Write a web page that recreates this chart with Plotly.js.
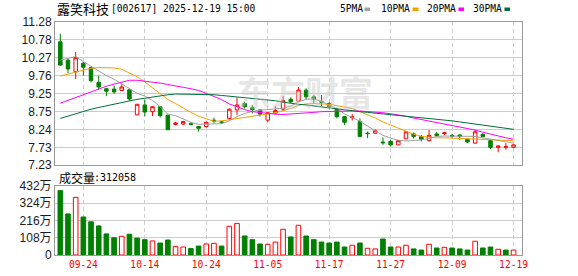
<!DOCTYPE html>
<html><head><meta charset="utf-8">
<script src="https://cdn.plot.ly/plotly-3.0.1.min.js"></script>
<style>html,body{margin:0;padding:0;background:#fff;}#chart{width:578px;height:276px;}</style>
</head><body><div id="chart"></div>
<script>
const dates = ['09-19','09-22','09-23','09-24','09-25','09-26','09-29','09-30','10-09','10-10','10-13','10-14','10-15','10-16','10-17','10-20','10-21','10-22','10-23','10-24','10-27','10-28','10-29','10-30','10-31','11-03','11-04','11-05','11-06','11-07','11-10','11-11','11-12','11-13','11-14','11-17','11-18','11-19','11-20','11-21','11-24','11-25','11-26','11-27','11-28','12-01','12-02','12-03','12-04','12-05','12-08','12-09','12-10','12-11','12-12','12-15','12-16','12-17','12-18','12-19'];
const openP  = [10.72,10.20,9.87,10.11,9.99,9.57,9.39,9.38,9.34,9.36,8.65,8.93,8.74,8.88,8.64,8.38,8.39,8.40,8.32,8.32,8.50,8.45,8.55,8.79,8.97,8.86,8.79,8.50,8.70,8.81,9.09,9.04,9.35,9.16,9.03,8.97,8.81,8.60,8.57,8.46,8.13,8.13,7.88,7.90,7.80,7.97,8.11,8.04,7.92,8.11,8.12,8.07,8.08,7.96,7.85,8.10,7.92,7.73,7.73,7.73];
const highP  = [10.95,10.23,10.43,10.15,10.01,9.76,9.40,9.47,9.52,9.37,8.96,9.08,8.90,8.90,8.66,8.45,8.48,8.44,8.33,8.46,8.57,8.48,8.83,9.14,9.02,8.93,8.80,8.72,8.90,9.18,9.15,9.44,9.40,9.21,9.21,9.01,8.85,8.62,8.67,8.55,8.18,8.24,8.01,7.95,7.93,8.18,8.15,8.08,8.22,8.17,8.17,8.11,8.10,7.97,8.22,8.13,7.96,7.77,7.85,7.81];
const lowP   = [10.05,9.83,9.66,9.76,9.57,9.36,9.18,9.25,9.34,9.05,8.64,8.61,8.62,8.58,8.22,8.35,8.36,8.35,8.18,8.29,8.41,8.40,8.53,8.65,8.83,8.69,8.60,8.45,8.67,8.77,8.98,9.02,9.07,8.97,8.90,8.82,8.55,8.36,8.49,8.02,7.99,8.12,7.80,7.75,7.80,7.97,7.98,7.90,7.90,8.05,8.08,8.00,7.95,7.85,7.83,8.00,7.68,7.59,7.66,7.72];
const closeP = [10.06,9.95,10.27,10.00,9.62,9.44,9.32,9.30,9.44,9.10,8.95,8.73,8.88,8.63,8.23,8.42,8.46,8.38,8.27,8.44,8.48,8.44,8.81,8.93,8.88,8.80,8.67,8.71,8.77,9.05,9.02,9.35,9.16,9.09,9.01,8.88,8.60,8.44,8.59,8.04,8.12,8.20,7.86,7.80,7.92,8.17,8.04,7.96,8.07,8.06,8.14,8.05,8.04,7.88,8.17,8.04,7.73,7.77,7.75,7.80];
const volume = [403,257,361,238,208,182,132,108,117,130,106,96,88,75,94,54,50,40,56,69,73,56,180,198,119,96,69,67,81,161,113,186,119,96,81,75,81,50,61,75,42,38,100,50,50,61,38,31,67,44,48,44,38,31,86,44,50,36,31,31.2];
const ma5  = [10.20,10.26,10.30,10.16,10.02,9.88,9.76,9.66,9.52,9.38,9.26,9.18,9.06,8.88,8.67,8.63,8.53,8.44,8.38,8.38,8.38,8.40,8.48,8.60,8.69,8.75,8.78,8.80,8.82,8.84,8.90,9.02,9.09,9.10,9.03,8.93,8.82,8.68,8.58,8.47,8.33,8.20,8.07,7.99,7.93,7.91,7.92,7.94,7.98,8.04,8.05,8.05,8.05,8.04,8.04,8.00,7.96,7.93,7.89,7.85];
const ma10 = [9.75,9.81,9.87,9.93,9.97,9.99,9.99,9.98,9.94,9.84,9.73,9.58,9.41,9.25,9.09,8.97,8.84,8.72,8.61,8.53,8.47,8.48,8.51,8.54,8.58,8.62,8.65,8.68,8.71,8.77,8.83,8.92,8.96,8.97,8.96,8.95,8.91,8.87,8.83,8.74,8.66,8.56,8.45,8.36,8.27,8.17,8.10,8.04,8.01,8.00,8.00,7.99,7.99,7.98,7.98,7.97,7.96,7.94,7.93,7.92];
const ma20 = [8.98,9.06,9.14,9.22,9.30,9.39,9.46,9.52,9.58,9.63,9.63,9.61,9.58,9.55,9.51,9.48,9.43,9.39,9.34,9.26,9.18,9.08,8.96,8.87,8.80,8.74,8.71,8.68,8.67,8.66,8.67,8.69,8.71,8.72,8.74,8.75,8.76,8.77,8.76,8.76,8.75,8.74,8.71,8.68,8.65,8.61,8.56,8.52,8.47,8.42,8.38,8.34,8.30,8.27,8.22,8.16,8.10,8.04,8.00,7.96];
const ma30 = [8.55,8.62,8.69,8.75,8.81,8.86,8.91,8.96,9.00,9.05,9.09,9.12,9.16,9.19,9.22,9.24,9.24,9.24,9.23,9.23,9.22,9.20,9.18,9.16,9.14,9.12,9.10,9.08,9.05,9.01,8.97,8.95,8.93,8.90,8.87,8.84,8.81,8.78,8.76,8.74,8.72,8.70,8.68,8.66,8.64,8.62,8.60,8.58,8.55,8.52,8.50,8.48,8.45,8.42,8.39,8.36,8.33,8.30,8.27,8.24];
const priceTicks = [7.23,7.73,8.24,8.75,9.25,9.76,10.27,10.78,11.28];
const volTicks = [0,108,216,324,432];
const volTickText = ['0','108万','216万','324万','432万'];
const dateTicks = ['09-24','10-14','10-24','11-05','11-17','11-27','12-09','12-19'];
const stockName = '露笑科技';
const stockInfo = '[002617] 2025-12-19 15:00';
const maNames = ['5PMA','10PMA','20PMA','30PMA'];
const volLabel = '成交量';
const volLast = ':312058';

const RED = '#ff0000', GREEN = '#008000';
const maColors = ['#a0a0a0','#f5a000','#ff00ff','#006f3a'];
const W = 578, H = 276, ML = 55, MR = 56, MT = 22, MB = 21;
const PW = W - ML - MR, PH = H - MT - MB;
const px = x => (x - ML) / PW;
const py = y => (H - MB - y) / PH;

const volUp = closeP.map((c, i) => i > 0 && c >= closeP[i - 1]);

const traces = [
  {type:'candlestick', x:dates, open:openP, high:highP, low:lowP, close:closeP,
   xaxis:'x2', yaxis:'y2', hoverinfo:'skip', whiskerwidth:0,
   increasing:{line:{color:RED,width:1}, fillcolor:'#ffffff'},
   decreasing:{line:{color:GREEN,width:1}, fillcolor:GREEN}},
  ...[ma5, ma10, ma20, ma30].map((m, k) => ({type:'scatter', mode:'lines', x:dates, y:m,
   xaxis:'x2', yaxis:'y2', hoverinfo:'skip', line:{color:maColors[k], width:1}})),
  {type:'bar', x:dates, y:volume, xaxis:'x', yaxis:'y', hoverinfo:'skip',
   marker:{color:volUp.map(u => u ? '#ffffff' : GREEN),
           line:{color:volUp.map(u => u ? RED : GREEN), width:1}}}
];

const axX = {type:'category', range:[-0.69, 60.1], tickvals:dateTicks, ticktext:dateTicks,
  showgrid:true, gridcolor:'#cccccc', griddash:'4px,3px', gridwidth:1,
  showline:true, mirror:true, linecolor:'#999999', linewidth:1, ticks:'',
  rangeslider:{visible:false}, fixedrange:true, zeroline:false};

const layout = {
  width:W, height:H, margin:{l:ML, r:MR, t:MT, b:MB, pad:0},
  paper_bgcolor:'#ffffff', plot_bgcolor:'#ffffff', showlegend:false,
  bargap:0.4, boxgap:0.35,
  font:{family:'Liberation Sans, Arial', size:12, color:'#111'},
  xaxis:Object.assign({}, axX, {anchor:'y', domain:[0,1],
     tickfont:{family:'DejaVu Sans Mono', size:9.6, color:RED}}),
  xaxis2:Object.assign({}, axX, {anchor:'y2', domain:[0,1], showticklabels:false, matches:'x'}),
  yaxis:{domain:[0, py(186)], range:[0,432], tickvals:volTicks, ticktext:volTickText,
     showgrid:true, gridcolor:'#cccccc', showline:true, mirror:true, linecolor:'#999999',
     zeroline:false, ticks:'', fixedrange:true,
     tickfont:{family:'Liberation Sans, Noto Sans CJK SC', size:12, color:'#1a1a1a'}},
  yaxis2:{domain:[py(165), 1], range:[7.23, 11.28], tickvals:priceTicks,
     ticktext:priceTicks.map(v => v.toFixed(2)),
     showgrid:true, gridcolor:'#cccccc', showline:true, mirror:true, linecolor:'#999999',
     zeroline:false, ticks:'', fixedrange:true,
     tickfont:{family:'Liberation Sans', size:12, color:'#1a1a1a'}},
  annotations:[
    {xref:'paper', yref:'paper', x:px(305), y:py(91), xanchor:'center', yanchor:'middle', showarrow:false,
     text:'<b>东方财富</b>', font:{family:'Noto Sans CJK SC', size:34, color:'rgba(200,200,200,0.45)'}},
    {xref:'paper', yref:'paper', x:px(55), y:py(9), xanchor:'left', yanchor:'middle', showarrow:false,
     text:stockName, font:{family:'Noto Sans CJK SC', size:13, color:'#000'}},
    {xref:'paper', yref:'paper', x:px(108.5), y:py(9), xanchor:'left', yanchor:'middle', showarrow:false,
     text:stockInfo, font:{family:'DejaVu Sans Mono', size:9.6, color:'#000'}},
    ...maNames.map((n, k) => ({xref:'paper', yref:'paper', x:px([338,379,425,471][k]), y:py(9),
     xanchor:'left', yanchor:'middle', showarrow:false, text:n,
     font:{family:'DejaVu Sans Mono', size:9.6, color:'#000'}})),
    {xref:'paper', yref:'paper', x:px(57), y:py(177), xanchor:'left', yanchor:'middle', showarrow:false,
     text:volLabel, font:{family:'Noto Sans CJK SC', size:12, color:'#000'}},
    {xref:'paper', yref:'paper', x:px(91.5), y:py(177), xanchor:'left', yanchor:'middle', showarrow:false,
     text:volLast, font:{family:'DejaVu Sans Mono', size:10, color:'#000'}}
  ],
  shapes:[0,1,2,3].map(k => ({type:'rect', xref:'paper', yref:'paper',
     x0:px([364.5,412.5,458.5,504.5][k]), x1:px([370,418.5,464,510][k]), y0:py(11), y1:py(7.5),
     fillcolor:maColors[k], line:{width:0}}))
};

Plotly.newPlot('chart', traces, layout, {staticPlot:true, displayModeBar:false});
</script></body></html>
